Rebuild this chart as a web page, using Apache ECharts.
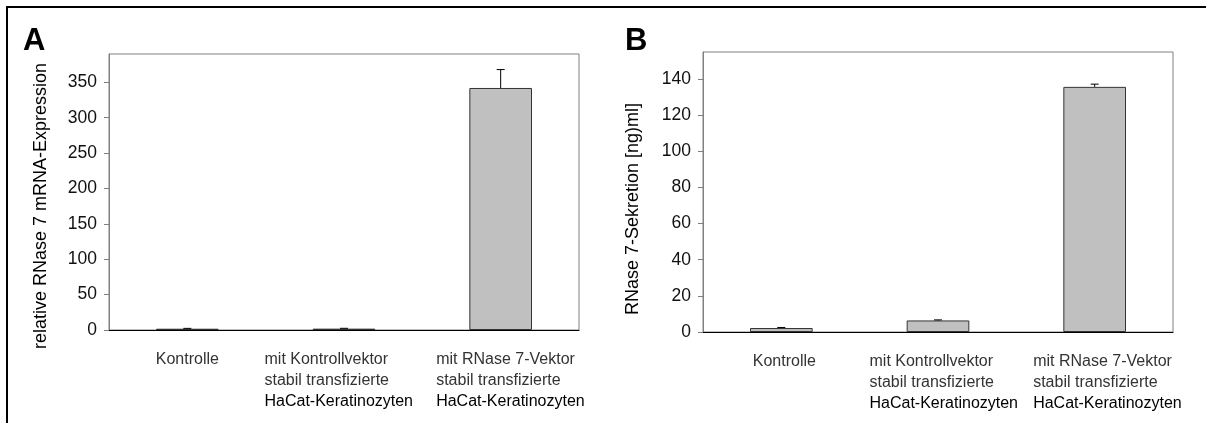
<!DOCTYPE html>
<html>
<head>
<meta charset="utf-8">
<script src="https://cdn.jsdelivr.net/npm/echarts@6/dist/echarts.min.js"></script>
<style>
html,body{margin:0;padding:0;background:#fff;}
#c{width:1206px;height:423px;}
</style>
</head>
<body>
<div id="c"></div>
<script>
// ---- data ----
var categories = [
  'Kontrolle',
  'mit Kontrollvektor\nstabil transfizierte\nHaCat-Keratinozyten',
  'mit RNase 7-Vektor\nstabil transfizierte\nHaCat-Keratinozyten'
];
var mrnaValues = [1.8, 1.9, 342];
var mrnaErrors = [0.5, 0.5, 26];
var secretionValues = [2.2, 6.4, 135.7];
var secretionErrors = [0.3, 0.3, 1.5];
var mrnaTicks = [0, 50, 100, 150, 200, 250, 300, 350];
var secretionTicks = [0, 20, 40, 60, 80, 100, 120, 140];
var titleA = 'relative RNase 7 mRNA-Expression';
var titleB = 'RNase 7-Sekretion [ng)ml]';

var FONT = 'Liberation Sans, Arial, sans-serif';
// horizontal label offsets (layout only)
var shiftA = [0, -5, 10];
var shiftB = [3, 6, 13];

function makeRich(shifts) {
  var rich = {};
  shifts.forEach(function (d, i) {
    var pad = d >= 0 ? [0, 0, 0, 2 * d] : [0, -2 * d, 0, 0];
    rich['s' + i] = {fontFamily: FONT, fontSize: 16, color: '#333', lineHeight: 21, padding: pad};
    rich['g' + i] = {fontFamily: FONT, fontSize: 16, color: '#333', lineHeight: 21, width: 149, align: 'left', padding: pad};
    rich['b' + i] = {fontFamily: FONT, fontSize: 16, color: '#000', lineHeight: 21, width: 149, align: 'left', padding: pad};
  });
  return rich;
}
function catFormatter(v, idx) {
  var lines = v.split('\n');
  if (lines.length === 1) return '{s' + idx + '|' + lines[0] + '}';
  return lines.map(function (l, i) {
    return '{' + (i === lines.length - 1 ? 'b' : 'g') + idx + '|' + l + '}';
  }).join('\n');
}

function xAxisDef(gi, shifts) {
  return {
    type: 'category', gridIndex: gi, data: categories,
    axisLine: {lineStyle: {color: '#000', width: 1}},
    axisTick: {show: false},
    axisLabel: {interval: 0, margin: 19, formatter: catFormatter, rich: makeRich(shifts), verticalAlign: 'top'}
  };
}
function yAxisDef(gi, max, ticks, name, gap, pad) {
  return {
    type: 'value', gridIndex: gi, min: 0, max: max,
    name: name, nameLocation: 'middle', nameGap: gap,
    nameTextStyle: {fontFamily: FONT, fontSize: 18, color: '#000', padding: pad},
    axisLine: {show: true, lineStyle: {color: '#808080', width: 1}},
    axisTick: {show: true, inside: false, length: 5, lineStyle: {color: '#808080'}, customValues: ticks},
    axisLabel: {fontFamily: FONT, fontSize: 17.5, color: '#111', margin: 12, customValues: ticks},
    splitLine: {show: false}
  };
}

function errorRender(params, api) {
  var x = api.value(0), y = api.value(1), e = api.value(2);
  var p0 = api.coord([x, y]);
  var p1 = api.coord([x, y + e]);
  var cap = 4;
  return {
    type: 'group',
    children: [
      {type: 'line', shape: {x1: p0[0], y1: p0[1], x2: p1[0], y2: p1[1]}, style: {stroke: '#000', lineWidth: 1}},
      {type: 'line', shape: {x1: p1[0] - cap, y1: p1[1], x2: p1[0] + cap, y2: p1[1]}, style: {stroke: '#000', lineWidth: 1}}
    ]
  };
}

function errData(vals, errs) {
  return vals.map(function (v, i) { return [i, v, errs[i]]; });
}

var chart = echarts.init(document.getElementById('c'), null, {renderer: 'canvas'});
chart.setOption({
  animation: false,
  backgroundColor: '#fff',
  grid: [
    {left: 109, top: 54, width: 470, height: 276, show: true, borderColor: '#808080', borderWidth: 1, containLabel: false, outerBoundsMode: 'none'},
    {left: 703, top: 52, width: 470, height: 280, show: true, borderColor: '#808080', borderWidth: 1, containLabel: false, outerBoundsMode: 'none'}
  ],
  xAxis: [xAxisDef(0, shiftA), xAxisDef(1, shiftB)],
  yAxis: [
    yAxisDef(0, 390, mrnaTicks, titleA, 59, [0, 28, 0, 0]),
    yAxisDef(1, 155, secretionTicks, titleB, 61, [0, 34, 0, 0])
  ],
  series: [
    {type: 'bar', xAxisIndex: 0, yAxisIndex: 0, data: mrnaValues, barWidth: '40%',
     itemStyle: {color: '#c0c0c0', borderColor: '#333', borderWidth: 1}},
    {type: 'custom', xAxisIndex: 0, yAxisIndex: 0, data: errData(mrnaValues, mrnaErrors), renderItem: errorRender, z: 5},
    {type: 'bar', xAxisIndex: 1, yAxisIndex: 1, data: secretionValues, barWidth: '40%',
     itemStyle: {color: '#c0c0c0', borderColor: '#333', borderWidth: 1}},
    {type: 'custom', xAxisIndex: 1, yAxisIndex: 1, data: errData(secretionValues, secretionErrors), renderItem: errorRender, z: 5}
  ],
  graphic: [
    {type: 'polyline', silent: true, shape: {points: [[7, 423], [7, 7], [1206, 7]]}, style: {stroke: '#000', lineWidth: 2, fill: null}},
    {type: 'text', left: 23, top: 26, style: {text: 'A', font: 'bold 31px ' + FONT, fill: '#000'}},
    {type: 'text', left: 625, top: 26, style: {text: 'B', font: 'bold 31px ' + FONT, fill: '#000'}}
  ]
});
</script>
</body>
</html>
